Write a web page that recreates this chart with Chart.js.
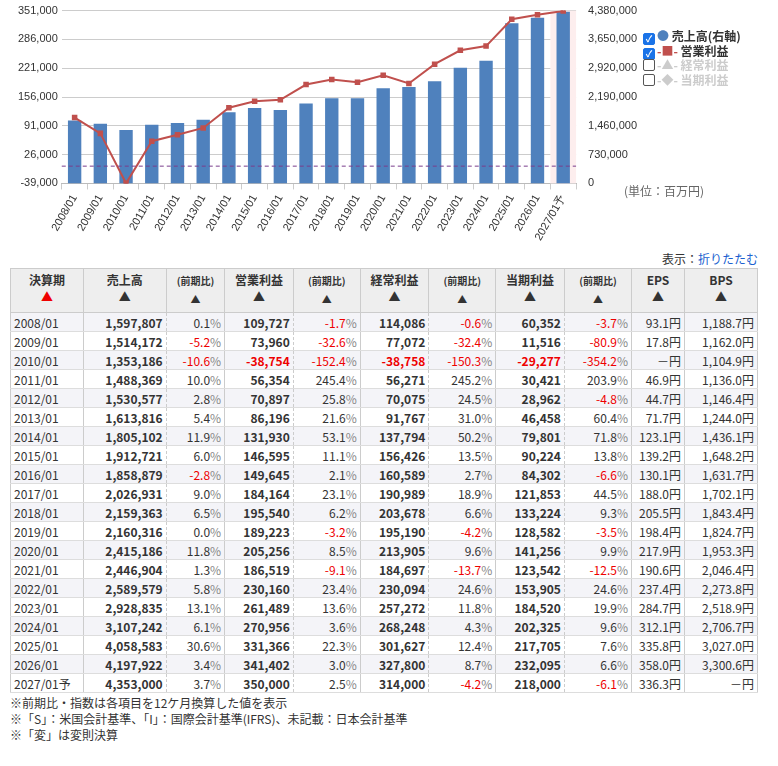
<!DOCTYPE html>
<html><head><meta charset="utf-8">
<script src="https://cdn.jsdelivr.net/npm/chart.js@4"></script>
<style>
body{margin:0;font-family:"Noto Sans CJK JP","Noto Sans",sans-serif;background:#fff;color:#333}
#wrap{position:relative;width:778px;height:250px}
#legend{position:absolute;left:643px;top:28px;font-size:12px;font-weight:bold;line-height:15px}
#legend div{height:14.5px;white-space:nowrap}
.cb{display:inline-block;width:10px;height:10px;border:1px solid #555;border-radius:2px;vertical-align:-1px;margin-right:2px;font-size:9px;line-height:10px;text-align:center;color:#fff}
.cb.on{background:#1a73e8;border-color:#1a73e8}
#unit{position:absolute;left:624px;top:182px;font-size:12px;color:#666}
#show{text-align:right;width:758px;font-size:12px;margin-top:0;height:18px}
#show a{color:#1a5fd0}
table{border-collapse:collapse;margin-left:10px;font-size:12px;width:748px}
th{background:#eee;border:1px solid #ccc;font-weight:bold;height:40px;vertical-align:top;padding-top:2px;line-height:17px}
th small{font-size:10px}
td{border-top:1px solid #ddd;border-bottom:1px solid #ddd;height:18px;padding:0 3px;text-align:right;white-space:nowrap}
tr:nth-child(even) td{background:#f4f4f8}
td.p{border-left:1px dashed #ccc;color:#333}
td.y{text-align:left;border-left:1px solid #ccc;border-right:1px solid #ccc}
td.m{font-weight:bold;border-left:1px solid #ccc}
td.e{border-left:1px solid #ccc}
td.b{border-left:1px solid #ccc;border-right:1px solid #ccc}
.neg{color:#e00}
.pc{color:#888}
#notes{font-size:12px;margin-left:10px;line-height:16px;margin-top:2px}
</style></head><body>
<div id="wrap"><canvas id="c" width="778" height="246"></canvas>
<div id="legend">
<div><span class="cb on">✓</span><span style="color:#4f81bd">●</span> 売上高(右軸)</div>
<div><span class="cb on">✓</span><span style="color:#c0504d">-■-</span> 営業利益</div>
<div style="color:#ccc"><span class="cb"></span>-▲- 経常利益</div>
<div style="color:#ccc"><span class="cb"></span>-◆- 当期利益</div>
</div>
<div id="unit">(単位：百万円)</div>
</div>
<div id="show">表示：<a>折りたたむ</a></div>
<table id="t"></table>
<div id="notes">※前期比・指数は各項目を12ケ月換算した値を表示<br>※「S」：米国会計基準、「I」：国際会計基準(IFRS)、未記載：日本会計基準<br>※「変」は変則決算</div>
<script>
const periods=["2008/01","2009/01","2010/01","2011/01","2012/01","2013/01","2014/01","2015/01","2016/01","2017/01","2018/01","2019/01","2020/01","2021/01","2022/01","2023/01","2024/01","2025/01","2026/01","2027/01予"];
const sales=[1597807,1514172,1353186,1488369,1530577,1613816,1805102,1912721,1858879,2026931,2159363,2160316,2415186,2446904,2589579,2928835,3107242,4058583,4197922,4353000];
const salesChg=[0.1,-5.2,-10.6,10.0,2.8,5.4,11.9,6.0,-2.8,9.0,6.5,0.0,11.8,1.3,5.8,13.1,6.1,30.6,3.4,3.7];
const opProfit=[109727,73960,-38754,56354,70897,86196,131930,146595,149645,184164,195540,189223,205256,186519,230160,261489,270956,331366,341402,350000];
const opChg=[-1.7,-32.6,-152.4,245.4,25.8,21.6,53.1,11.1,2.1,23.1,6.2,-3.2,8.5,-9.1,23.4,13.6,3.6,22.3,3.0,2.5];
const ordProfit=[114086,77072,-38758,56271,70075,91767,137794,156426,160589,190989,203678,195190,213905,184697,230094,257272,268248,301627,327800,314000];
const ordChg=[-0.6,-32.4,-150.3,245.2,24.5,31.0,50.2,13.5,2.7,18.9,6.6,-4.2,9.6,-13.7,24.6,11.8,4.3,12.4,8.7,-4.2];
const netProfit=[60352,11516,-29277,30421,28962,46458,79801,90224,84302,121853,133224,128582,141256,123542,153905,184520,202325,217705,232095,218000];
const netChg=[-3.7,-80.9,-354.2,203.9,-4.8,60.4,71.8,13.8,-6.6,44.5,9.3,-3.5,9.9,-12.5,24.6,19.9,9.6,7.6,6.6,-6.1];
const eps=["93.1","17.8","－","46.9","44.7","71.7","123.1","139.2","130.1","188.0","205.5","198.4","217.9","190.6","237.4","284.7","312.1","335.8","358.0","336.3"];
const bps=["1,188.7","1,162.0","1,104.9","1,136.0","1,146.4","1,244.0","1,436.1","1,648.2","1,631.7","1,702.1","1,843.4","1,824.7","1,953.3","2,046.4","2,273.8","2,518.9","2,706.7","3,027.0","3,300.6","－"];
const leftTicks=[-39000,26000,91000,156000,221000,286000,351000];
const rightTicks=[0,730000,1460000,2190000,2920000,3650000,4380000];

const fmt=v=>v.toLocaleString("en-US");
const extras={id:"extras",
 beforeDatasetsDraw(ch){const {ctx,chartArea:a,scales:{x,y}}=ch;
  const w=x.getPixelForValue(1)-x.getPixelForValue(0);const cx=x.getPixelForValue(periods.length-1);
  ctx.save();ctx.fillStyle="#fdeeee";ctx.fillRect(cx-w/2,a.top,w,a.bottom-a.top);ctx.restore();},
 afterDatasetsDraw(ch){const {ctx,chartArea:a,scales:{y}}=ch;const py=y.getPixelForValue(0);
  ctx.save();ctx.strokeStyle="#7a3d8c";ctx.setLineDash([4,3]);ctx.lineWidth=1;ctx.beginPath();ctx.moveTo(a.left,py);ctx.lineTo(a.right,py);ctx.stroke();ctx.restore();}};
new Chart(document.getElementById("c"),{
 data:{labels:periods,datasets:[
  {type:"line",data:opProfit,yAxisID:"y",borderColor:"#c0504d",backgroundColor:"#c0504d",borderWidth:2,pointStyle:"rect",pointRadius:2.5,tension:0,order:0},
  {type:"bar",data:sales,yAxisID:"y1",backgroundColor:"#4f81bd",barPercentage:0.52,categoryPercentage:1,order:1}]},
 options:{responsive:false,animation:false,layout:{padding:{left:14,right:137,top:8}},
  plugins:{legend:{display:false},tooltip:{enabled:false}},
  scales:{
   x:{grid:{display:true,drawOnChartArea:false,color:"#ccc",tickLength:6},border:{color:"#bbb"},ticks:{color:"#333",font:{size:11},maxRotation:60,minRotation:60}},
   y:{position:"left",min:-39000,max:351000,afterBuildTicks:s=>{s.ticks=leftTicks.map(v=>({value:v}))},grid:{color:"#ccc",drawTicks:false},border:{display:false},ticks:{color:"#333",font:{size:11},callback:v=>fmt(v),padding:4}},
   y1:{position:"right",min:0,max:4380000,afterBuildTicks:s=>{s.ticks=rightTicks.map(v=>({value:v}))},grid:{display:false},border:{display:false},ticks:{color:"#333",font:{size:11},callback:v=>fmt(v),padding:4}}}},
 plugins:[extras]});

const pct=v=>`<td class="p"><span class="${v<0?'neg':''}">${v.toFixed(1)}</span><span class="pc">%</span></td>`;
const num=v=>`<td class="m${v<0?' neg':''}">${fmt(v)}</td>`;
let h=`<tr><th style="width:70px">決算期<br><span style="color:#e00">▲</span></th><th>売上高<br>▲</th><th><small>(前期比)</small><br><small>▲</small></th><th>営業利益<br>▲</th><th><small>(前期比)</small><br><small>▲</small></th><th>経常利益<br>▲</th><th><small>(前期比)</small><br><small>▲</small></th><th>当期利益<br>▲</th><th><small>(前期比)</small><br><small>▲</small></th><th style="width:50px">EPS<br>▲</th><th style="width:70px">BPS<br>▲</th></tr>`;
periods.forEach((p,i)=>{h+=`<tr><td class="y">${p}</td>${num(sales[i])}${pct(salesChg[i])}${num(opProfit[i])}${pct(opChg[i])}${num(ordProfit[i])}${pct(ordChg[i])}${num(netProfit[i])}${pct(netChg[i])}<td class="e">${eps[i]}円</td><td class="b">${bps[i]}円</td></tr>`;});
document.getElementById("t").innerHTML=h;
</script></body></html>
